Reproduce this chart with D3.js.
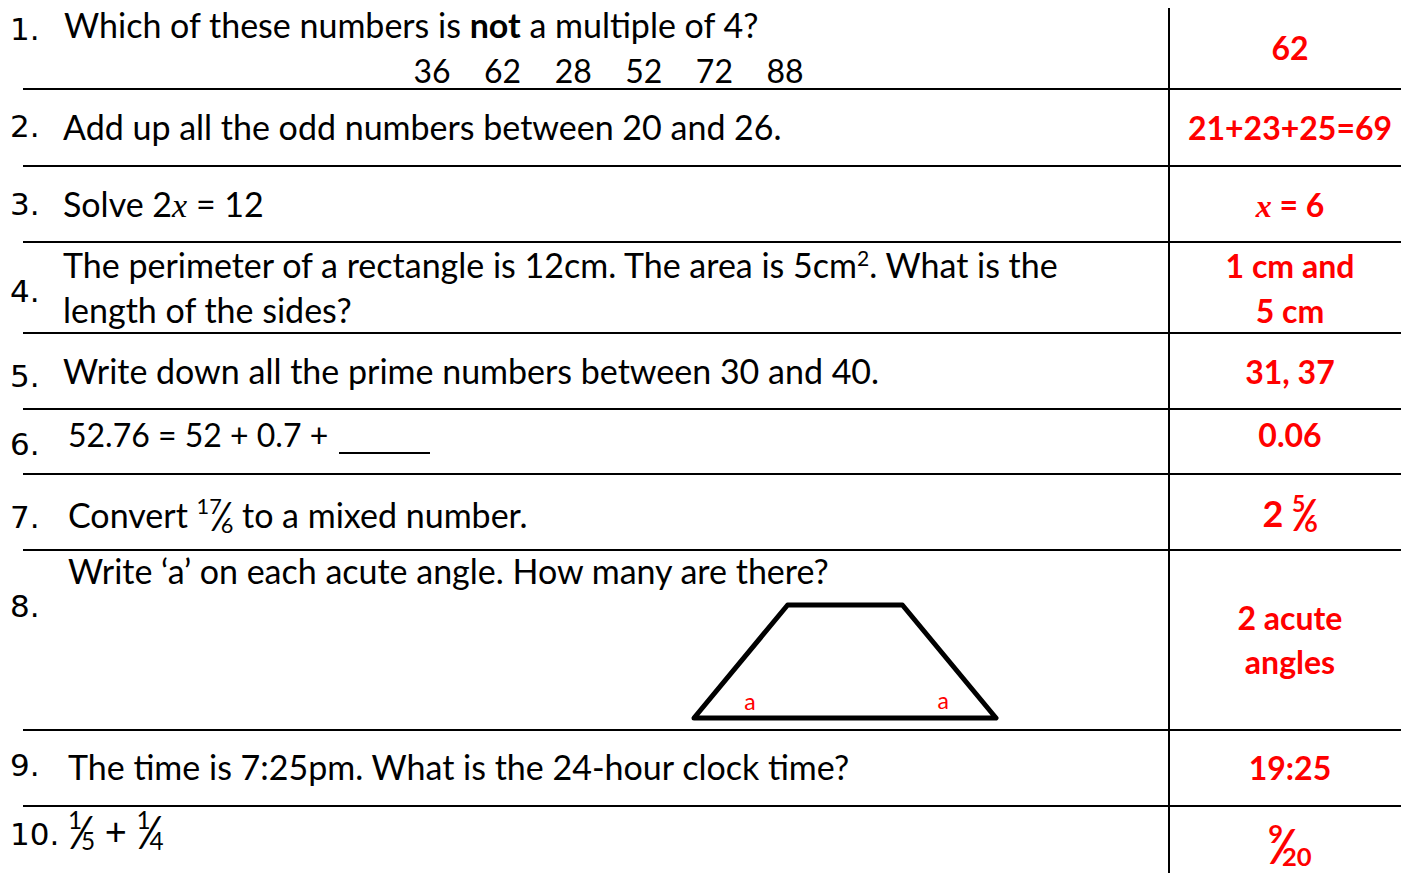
<!DOCTYPE html>
<html><head><meta charset="utf-8">
<script src="https://cdn.jsdelivr.net/npm/d3@7"></script>
<style>html,body{margin:0;padding:0;background:#fff;}svg{display:block;}</style>
</head><body><svg id="c" width="1401" height="873"></svg>
<script>
// ---- data ----
const questionNumbers = ["1.","2.","3.","4.","5.","6.","7.","8.","9.","10."];
const rowEdges = [8, 89, 166, 242, 333, 409, 474, 550, 730, 806, 873];
const candidateNumbers = ["36","62","28","52","72","88"];
const questionLines = [
  [["Which of these numbers is ", {b:"not"}, " a multiple of 4?"]],
  [["Add up all the odd numbers between 20 and 26."]],
  [["Solve 2", {i:"x"}, " = 12"]],
  [["The perimeter of a rectangle is 12cm. The area is 5cm", {sup:"2"}, ". What is the"], ["length of the sides?"]],
  [["Write down all the prime numbers between 30 and 40."]],
  [["52.76 = 52 + 0.7 +"]],
  [["Convert ", {frac:["17","6"]}, " to a mixed number."]],
  [["Write \u2018a\u2019 on each acute angle. How many are there?"]],
  [["The time is 7:25pm. What is the 24-hour clock time?"]],
  [[{frac:["1","5"]}, " + ", {frac:["1","4"]}]]
];
const answers = [
  [["62"]],
  [["21+23+25=69"]],
  [[{i:"x"}, " = 6"]],
  [["1 cm and"], ["5 cm"]],
  [["31, 37"]],
  [["0.06"]],
  [["2 ", {frac:["5","6"]}]],
  [["2 acute"], ["angles"]],
  [["19:25"]],
  [[{frac:["9","20"]}]]
];
const trapezoid = [[0,0],[0.31,1],[0.69,1],[1,0]]; // unit shape: bottom-left, top-left, top-right, bottom-right
const angleLabels = ["a","a"];

// ---- layout ----
const svg = d3.select("#c");
const W = 1401;
const y = d3.scaleLinear().domain([0, 873]).range([0, 873]);
const colX = 1169;
const qFont = "Lato, 'Open Sans', sans-serif";
const numFont = "'DejaVu Sans', sans-serif";
const red = "#ff0000";

// lines
svg.selectAll("line.h").data(rowEdges.slice(1, -1)).join("line")
  .attr("x1", 23).attr("x2", W).attr("y1", d => y(d)).attr("y2", d => y(d))
  .attr("stroke", "#000").attr("stroke-width", 2);
svg.append("line").attr("x1", colX).attr("x2", colX).attr("y1", y(rowEdges[0])).attr("y2", y(873))
  .attr("stroke", "#000").attr("stroke-width", 2);

function addRich(textSel, parts, fs) {
  let off = 0; // current baseline offset in px
  function span(txt, size, targetOff, dx) {
    const s = textSel.append("tspan").attr("font-size", size).attr("dy", targetOff - off).text(txt);
    if (dx) s.attr("dx", dx);
    off = targetOff;
    return s;
  }
  parts.forEach(p => {
    if (typeof p === "string") span(p, fs, 0);
    else if (p.b) span(p.b, fs, 0).attr("font-weight", "bold");
    else if (p.i) span(p.i, fs, 0).attr("font-style", "italic").attr("font-family", "'Liberation Serif', serif");
    else if (p.sup) span(p.sup, fs * 0.62, -fs * 0.36);
    else if (p.frac) {
      span(p.frac[0], fs * 0.64, -fs * 0.42);
      span("\u2044", fs * 1.2, fs * 0.1, -fs * 0.1);
      span(p.frac[1], fs * 0.64, fs * 0.14, -fs * 0.1);
    }
  });
}

// question numbers
const numBaselines = [40, 137, 215, 302, 387, 455, 528, 617, 776, 845];
svg.selectAll("text.qn").data(questionNumbers).join("text")
  .attr("x", 10).attr("y", (d, i) => y(numBaselines[i]))
  .attr("font-family", numFont).attr("font-size", 31).attr("fill", "#000").text(d => d);

// questions
const qX = [64, 63, 63, 63, 63, 68, 68, 68, 68, 68];
const qSize = [34, 34, 34, 34, 34, 32, 34, 34, 34, 38];
const qBase = [[38], [140], [217], [278, 323], [384], [447], [528], [584], [780], [845]];
questionLines.forEach((lines, i) => {
  lines.forEach((parts, j) => {
    const t = svg.append("text").attr("x", qX[i]).attr("y", y(qBase[i][j]))
      .attr("font-family", qFont).attr("fill", "#000");
    addRich(t, parts, qSize[i]);
  });
});

// number list in Q1
const nx = d3.scalePoint().domain(candidateNumbers).range([432, 785]);
svg.selectAll("text.cn").data(candidateNumbers).join("text")
  .attr("x", d => nx(d)).attr("y", y(83)).attr("text-anchor", "middle")
  .attr("font-family", qFont).attr("font-size", 32).text(d => d);

// blank in Q6
svg.append("line").attr("x1", 339).attr("x2", 430).attr("y1", y(453)).attr("y2", y(453))
  .attr("stroke", "#000").attr("stroke-width", 2);

// trapezoid in Q8
const tx = d3.scaleLinear().domain([0, 1]).range([694, 996]);
const ty = d3.scaleLinear().domain([0, 1]).range([y(718), y(605)]);
svg.append("path").attr("d", d3.line().x(d => tx(d[0])).y(d => ty(d[1]))(trapezoid) + "Z")
  .attr("fill", "none").attr("stroke", "#000").attr("stroke-width", 5).attr("stroke-linejoin", "round");
svg.selectAll("text.al").data(angleLabels).join("text")
  .attr("x", (d, i) => i === 0 ? tx(0.185) : tx(0.825)).attr("y", (d, i) => ty(0.07) + (i ? -1 : 0))
  .attr("text-anchor", "middle").attr("font-family", qFont).attr("font-size", 23).attr("fill", red).text(d => d);

// answers
const aCx = 1290;
const aSize = [32, 32, 32, 32, 32, 32, 36, 32, 32, 40];
const aBase = [[60], [140], [217], [278, 323], [384], [447], [527], [630, 674], [780], [860]];
answers.forEach((lines, i) => {
  lines.forEach((parts, j) => {
    const t = svg.append("text").attr("x", aCx).attr("y", y(aBase[i][j])).attr("text-anchor", "middle")
      .attr("font-family", qFont).attr("font-weight", "bold").attr("fill", red);
    addRich(t, parts, aSize[i]);
  });
});
</script></body></html>
